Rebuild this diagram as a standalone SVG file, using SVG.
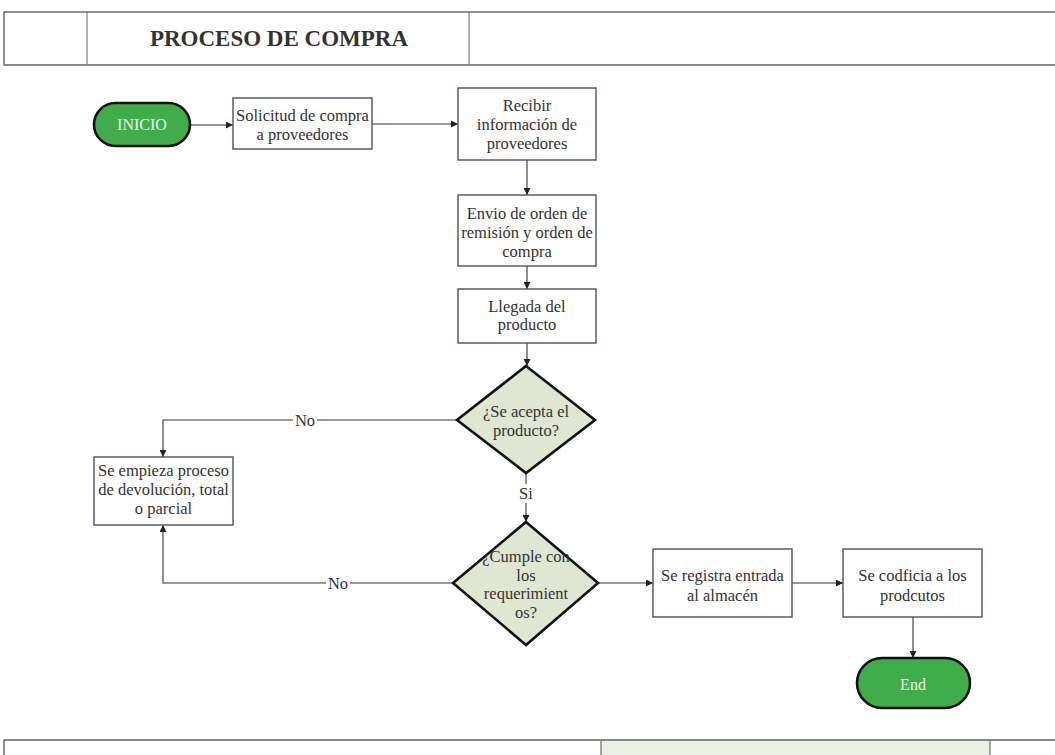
<svg xmlns="http://www.w3.org/2000/svg" width="1055" height="755" viewBox="0 0 1055 755" font-family="'Liberation Serif', 'DejaVu Serif', serif">
  <style>
    .frame { fill: #ffffff; stroke: #444444; stroke-width: 1.2; }
    .divider { stroke: #666666; stroke-width: 1; }
    .title { font-size: 23px; font-weight: bold; fill: #333333; }
    .box { fill: #ffffff; stroke: #4b5068; stroke-width: 1.4; }
    .decision { fill: #dfe6d2; stroke: #111111; stroke-width: 2.6; }
    .terminal { fill: #3fae4a; stroke: #111111; stroke-width: 2.6; }
    .label { font-size: 16.5px; fill: #333333; text-anchor: middle; }
    .term-label { font-size: 16px; fill: #eef8ee; text-anchor: middle; }
    .edge { fill: none; stroke: #333333; stroke-width: 1.1; }
    .edge-label { font-size: 16.5px; fill: #333333; text-anchor: middle; }
  </style>
  <defs>
    <marker id="arrow" viewBox="0 0 10 10" refX="10" refY="5" markerWidth="7" markerHeight="7" markerUnits="userSpaceOnUse" orient="auto">
      <path d="M0,0 L10,5 L0,10 z" fill="#222222"/>
    </marker>
  </defs>

  <!-- header band -->
  <g id="header">
    <rect class="frame" x="4" y="12" width="1060" height="53"/>
    <line class="divider" x1="87" y1="12" x2="87" y2="65"/>
    <line class="divider" x1="469" y1="12" x2="469" y2="65"/>
    <line x1="4" y1="65" x2="1055" y2="65" stroke="#888888" stroke-width="2"/>
    <text class="title" x="279" y="46" text-anchor="middle">PROCESO DE COMPRA</text>
  </g>

  <!-- footer band -->
  <g id="footer">
    <rect x="601" y="740" width="389" height="20" fill="#eaf1e4"/>
    <line x1="4" y1="740" x2="1055" y2="740" stroke="#888888" stroke-width="2"/>
    <line x1="4" y1="740" x2="4" y2="755" stroke="#444444" stroke-width="1.2"/>
    <line x1="601" y1="740" x2="601" y2="755" stroke="#888888" stroke-width="1.5"/>
    <line x1="990" y1="740" x2="990" y2="755" stroke="#888888" stroke-width="1.5"/>
  </g>

  <!-- connectors -->
  <g id="connectors">
    <path class="edge" d="M190,125 L233,125" marker-end="url(#arrow)"/>
    <path class="edge" d="M372,124 L458,124" marker-end="url(#arrow)"/>
    <path class="edge" d="M527,160 L527,195" marker-end="url(#arrow)"/>
    <path class="edge" d="M527,266 L527,289" marker-end="url(#arrow)"/>
    <path class="edge" d="M527,343 L527,366" marker-end="url(#arrow)"/>
    <path class="edge" d="M457,420 L163,420 L163,457" marker-end="url(#arrow)"/>
    <path class="edge" d="M526,473 L526,484"/>
    <path class="edge" d="M526,503 L526,522" marker-end="url(#arrow)"/>
    <path class="edge" d="M453,583 L163,583 L163,525" marker-end="url(#arrow)"/>
    <path class="edge" d="M598,583 L653,583" marker-end="url(#arrow)"/>
    <path class="edge" d="M792,583 L843,583" marker-end="url(#arrow)"/>
    <path class="edge" d="M913,617 L913,658" marker-end="url(#arrow)"/>
    <rect x="293" y="412" width="24" height="16" fill="#ffffff"/>
    <text class="edge-label" x="305" y="426">No</text>
    <rect x="326" y="575" width="24" height="16" fill="#ffffff"/>
    <text class="edge-label" x="338" y="589">No</text>
    <text class="edge-label" x="526" y="499">Si</text>
  </g>

  <g id="inicio">
    <rect class="terminal" x="94" y="103" width="96" height="43" rx="21.5" ry="21.5"/>
    <text class="term-label" x="142" y="130">INICIO</text>
  </g>

  <g id="solicitud">
    <rect class="box" x="233" y="98" width="139" height="51"/>
    <text class="label" x="302.5" y="121">Solicitud de compra</text>
    <text class="label" x="302.5" y="140">a proveedores</text>
  </g>

  <g id="recibir">
    <rect class="box" x="458" y="88" width="138" height="72"/>
    <text class="label" x="527" y="111">Recibir</text>
    <text class="label" x="527" y="130">información de</text>
    <text class="label" x="527" y="149">proveedores</text>
  </g>

  <g id="envio">
    <rect class="box" x="458" y="195" width="138" height="71"/>
    <text class="label" x="527" y="219">Envio de orden de</text>
    <text class="label" x="527" y="238">remisión y orden de</text>
    <text class="label" x="527" y="257">compra</text>
  </g>

  <g id="llegada">
    <rect class="box" x="458" y="289" width="138" height="54"/>
    <text class="label" x="527" y="312">Llegada del</text>
    <text class="label" x="527" y="330">producto</text>
  </g>

  <g id="acepta">
    <polygon class="decision" points="526,366 595,420 526,473 457,420"/>
    <text class="label" x="526" y="417">¿Se acepta el</text>
    <text class="label" x="526" y="436">producto?</text>
  </g>

  <g id="devolucion">
    <rect class="box" x="94" y="457" width="139" height="68"/>
    <text class="label" x="163.5" y="476">Se empieza proceso</text>
    <text class="label" x="163.5" y="495">de devolución, total</text>
    <text class="label" x="163.5" y="514">o parcial</text>
  </g>

  <g id="requerimientos">
    <polygon class="decision" points="526,522 598,583 526,645 453,583"/>
    <text class="label" x="526" y="562">¿Cumple con</text>
    <text class="label" x="526" y="581">los</text>
    <text class="label" x="526" y="599">requerimient</text>
    <text class="label" x="526" y="618">os?</text>
  </g>

  <g id="registro">
    <rect class="box" x="653" y="549" width="139" height="68"/>
    <text class="label" x="722.5" y="581">Se registra entrada</text>
    <text class="label" x="722.5" y="601">al almacén</text>
  </g>

  <g id="codifica">
    <rect class="box" x="843" y="549" width="139" height="68"/>
    <text class="label" x="912.5" y="581">Se codficia a los</text>
    <text class="label" x="912.5" y="601">prodcutos</text>
  </g>

  <g id="end">
    <rect class="terminal" x="857" y="658" width="113" height="50" rx="25" ry="25"/>
    <text class="term-label" x="913" y="690">End</text>
  </g>
</svg>
